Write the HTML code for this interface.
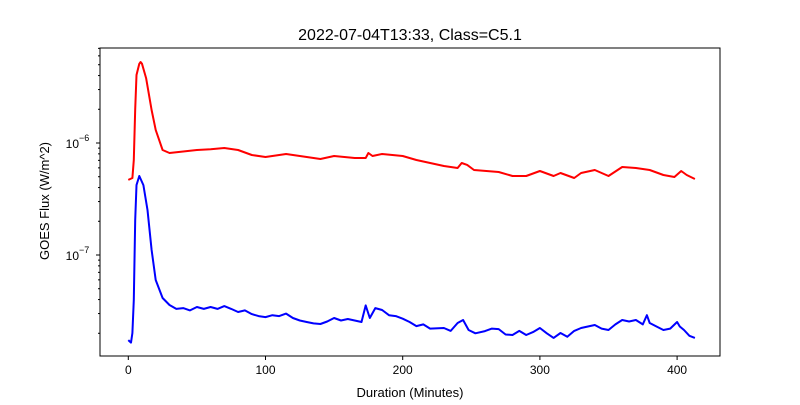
<!DOCTYPE html>
<html><head><meta charset="utf-8"><style>
body{margin:0;background:#fff;}
svg text{font-family:"Liberation Sans","DejaVu Sans",sans-serif;fill:#000;}
</style></head><body>
<svg id="chart" width="800" height="400" xmlns="http://www.w3.org/2000/svg">
<rect width="800" height="400" fill="#fff"/>
<text x="410" y="40" font-size="16" text-anchor="middle">2022-07-04T13:33, Class=C5.1</text>
<g id="plot"></g>
<text x="410" y="397" font-size="13" text-anchor="middle">Duration (Minutes)</text>
<text transform="translate(49,201) rotate(-90)" font-size="13" text-anchor="middle">GOES Flux (W/m^2)</text>
</svg>
<script>
const xTicks=[0,100,200,300,400];
const yTicks=[1e-7,1e-6];
const yTickLabels=["10","10"];
const yTickExps=["−7","−6"];
const redTimes=[0,3,4,5,6,8,9,10,13,17,20,25,30,40,50,60,70,80,90,100,115,130,140,150,165,173,175,178,185,200,210,230,240,243,247,252,270,280,290,300,310,315,325,330,340,350,360,370,380,390,398,403,407,413];
const redValues=[4.68e-7,4.87e-7,7.05e-7,2.0e-6,4.05e-6,5.1e-6,5.29e-6,5.1e-6,3.80e-6,1.97e-6,1.31e-6,8.66e-7,8.14e-7,8.4e-7,8.66e-7,8.8e-7,9.02e-7,8.66e-7,7.82e-7,7.50e-7,7.98e-7,7.50e-7,7.20e-7,7.66e-7,7.35e-7,7.35e-7,8.14e-7,7.66e-7,7.98e-7,7.66e-7,7.05e-7,6.23e-7,5.98e-7,6.63e-7,6.37e-7,5.74e-7,5.51e-7,5.07e-7,5.07e-7,5.62e-7,5.07e-7,5.40e-7,4.87e-7,5.40e-7,5.74e-7,5.07e-7,6.11e-7,5.98e-7,5.74e-7,5.18e-7,4.97e-7,5.62e-7,5.18e-7,4.77e-7];
const blueTimes=[0,2,3,4,5,6,8,11,14,17,20,25,30,35,40,45,50,55,60,65,70,75,80,85,90,95,100,105,110,115,120,125,130,135,140,145,150,155,160,165,170,173,176,180,185,190,195,200,205,210,215,220,230,235,240,244,248,253,260,265,270,275,280,285,290,295,300,305,310,315,320,325,330,335,340,345,350,355,360,365,370,375,378,380,385,390,395,400,402,405,409,413];
const blueValues=[1.74e-8,1.65e-8,2.01e-8,3.97e-8,2.05e-7,4.21e-7,5.07e-7,4.21e-7,2.52e-7,1.11e-7,5.98e-8,4.13e-8,3.58e-8,3.3e-8,3.36e-8,3.2e-8,3.43e-8,3.3e-8,3.43e-8,3.3e-8,3.50e-8,3.3e-8,3.10e-8,3.2e-8,2.97e-8,2.85e-8,2.79e-8,2.9e-8,2.85e-8,3.0e-8,2.74e-8,2.6e-8,2.52e-8,2.45e-8,2.42e-8,2.55e-8,2.74e-8,2.6e-8,2.68e-8,2.6e-8,2.52e-8,3.55e-8,2.74e-8,3.36e-8,3.23e-8,2.9e-8,2.85e-8,2.7e-8,2.52e-8,2.32e-8,2.4e-8,2.2e-8,2.23e-8,2.1e-8,2.47e-8,2.63e-8,2.14e-8,2.0e-8,2.09e-8,2.2e-8,2.18e-8,1.95e-8,1.93e-8,2.1e-8,1.93e-8,2.05e-8,2.23e-8,2.0e-8,1.82e-8,2.01e-8,1.86e-8,2.1e-8,2.23e-8,2.3e-8,2.37e-8,2.2e-8,2.14e-8,2.4e-8,2.63e-8,2.55e-8,2.63e-8,2.4e-8,2.9e-8,2.47e-8,2.3e-8,2.14e-8,2.2e-8,2.52e-8,2.3e-8,2.14e-8,1.9e-8,1.82e-8];

const L=100,R=720,T=48,B=356;
const xs=t=>128.3+(t-0)*1.372;
const ys=v=>143-112*Math.log10(v/1e-6);
const ns="http://www.w3.org/2000/svg";
const plot=document.getElementById('plot');
function mk(tag,attrs){const e=document.createElementNS(ns,tag);for(const k in attrs)e.setAttribute(k,attrs[k]);plot.appendChild(e);return e;}
function line(times,vals,color,name){
  const d=times.map((t,i)=>(i?'L':'M')+xs(t).toFixed(1)+','+ys(vals[i]).toFixed(1)).join('');
  const p=mk('path',{d:d,fill:'none',stroke:color,'stroke-width':2,'stroke-linejoin':'round'});
  
  
}
line(redTimes,redValues,'#ff0000','long-channel-line');
line(blueTimes,blueValues,'#0000ff','short-channel-line');
const frame=mk('rect',{x:L,y:T,width:R-L,height:B-T,fill:'none',stroke:'#000','stroke-width':1});


xTicks.forEach(t=>{
  const x=xs(t);
  const tk=mk('line',{x1:x,x2:x,y1:B,y2:B+4,stroke:'#000'});
  
  
  const lb=mk('text',{x:x,y:B+18,'font-size':12,'text-anchor':'middle'});
  lb.textContent=t;
  
  
});
for(let e=-8;e<=-6;e++){for(let m=2;m<=9;m++){const v=m*Math.pow(10,e);const y=ys(v);if(y>T&&y<B){
  const mt=mk('line',{x1:L-2,x2:L,y1:y,y2:y,stroke:'#000'});
  
  
}}}
yTicks.forEach((v,i)=>{
  const y=ys(v);
  const tk=mk('line',{x1:L-4,x2:L,y1:y,y2:y,stroke:'#000'});
  
  
  const lb=mk('text',{x:L-21,y:y+5,'font-size':12,'text-anchor':'end'});
  lb.textContent=yTickLabels[i];
  
  
  const ex=mk('text',{x:L-21,y:y-2,'font-size':9,'text-anchor':'start'});
  ex.textContent=yTickExps[i];
  
  
});
</script>
</body></html>
